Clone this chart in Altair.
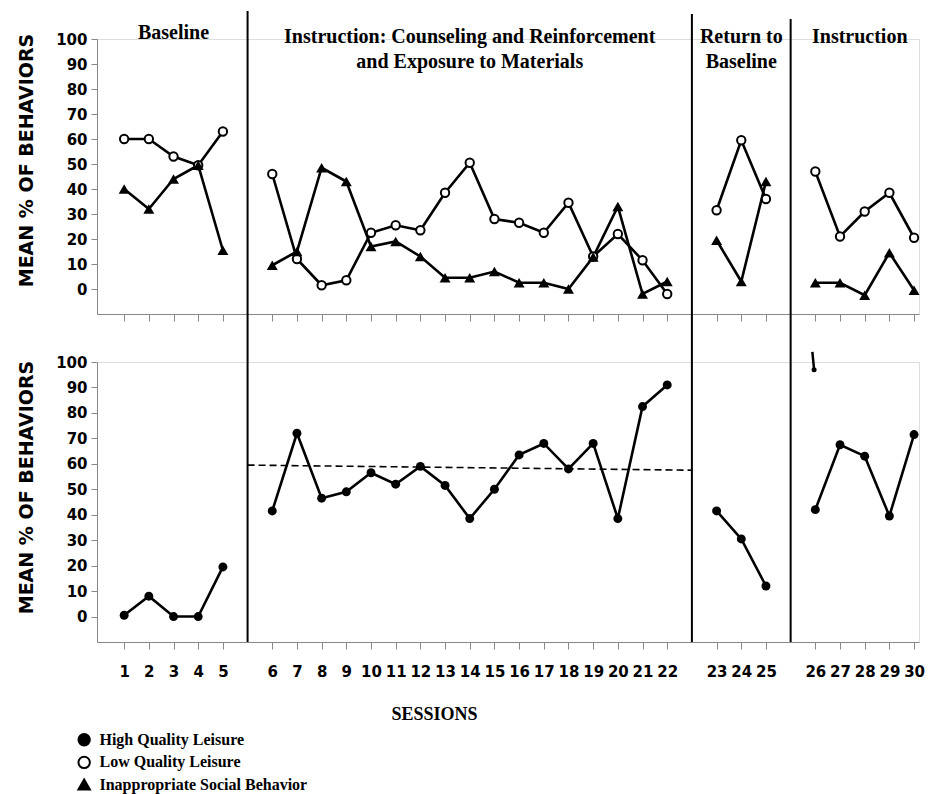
import altair as alt
import pandas as pd

# ---------------- data ----------------
sessions = list(range(1, 31))
phase_of_session = [0] * 5 + [1] * 17 + [2] * 3 + [3] * 5

low_quality = [60, 60, 53, 49.5, 63,
               46, 12, 1.5, 3.5, 22.5, 25.5, 23.5, 38.5, 50.5, 28, 26.5, 22.5, 34.5, 13, 22, 11.5, -2,
               31.5, 59.5, 36,
               47, 21, 31, 38.5, 20.5]
inappropriate = [40, 32, 44, 49.5, 15.5,
                 9.5, 15, 48.5, 43, 17, 19, 13, 4.5, 4.5, 7, 2.5, 2.5, 0, 12.8, 33, -2, 3,
                 19.5, 3, 43,
                 2.5, 2.5, -2.5, 14.5, -0.5]
high_quality = [0.5, 8, 0, 0, 19.5,
                41.5, 72, 46.5, 49, 56.5, 52, 59, 51.5, 38.5, 50, 63.5, 68, 58, 68, 38.5, 82.5, 91,
                41.5, 30.5, 12,
                42, 67.5, 63, 39.5, 71.5]

phase_names = [["Baseline"],
               ["Instruction: Counseling and Reinforcement", "and Exposure to Materials"],
               ["Return to", "Baseline"],
               ["Instruction"]]
trend_values = [59.5, 57.5]           # dashed line in the first instruction phase
stray_mark = [97, 104]                # small stray stroke at session 26 (lower panel)
legend_labels = ["High Quality Leisure", "Low Quality Leisure", "Inappropriate Social Behavior"]

# ---------------- layout helpers ----------------
# each phase change leaves an empty slot on the session axis
pos = [s + p for s, p in zip(sessions, phase_of_session)]
phase_lines = [6, 24, 28]
tick_positions = pos

df = pd.DataFrame({"session": sessions, "pos": pos, "phase": phase_of_session,
                   "low": low_quality, "inap": inappropriate, "high": high_quality})

x_scale = alt.Scale(domain=[-0.1, 33.2], nice=False, zero=False)
y_scale = alt.Scale(domain=[-10, 100], nice=False, zero=False)

label_expr = ("datum.value <= 5 ? datum.value : datum.value <= 23 ? datum.value - 1 : "
              "datum.value <= 27 ? datum.value - 2 : datum.value - 3")

W = 822
H_TOP = 275
H_BOT = 280

Y_TITLE = "MEAN % OF BEHAVIORS"


def y_axis(title_y):
    return alt.Axis(values=list(range(0, 101, 10)), title=Y_TITLE, titleX=-71, titleY=title_y,
                    titleAngle=-90, titleFont="DejaVu Sans", titleFontSize=19, titleFontWeight="bold",
                    titleAlign="center", titleBaseline="middle",
                    labelFont="DejaVu Sans", labelFontSize=15, labelFontWeight="bold",
                    labelPadding=4, tickSize=6, grid=False, labelOverlap=False,
                    labelBound=False)


x_axis_top = alt.Axis(values=tick_positions, labels=False, title=None, tickSize=7, grid=False)
x_axis_bot = alt.Axis(values=tick_positions, labelExpr=label_expr, title="SESSIONS",
                      labelFont="DejaVu Sans", labelFontSize=15, labelFontWeight="bold",
                      labelPadding=15, tickSize=7, grid=False, labelOverlap=False,
                      labelBound=False, labelFlush=False,
                      titleX=337, titleY=77, titleAnchor="start", titleAlign="center",
                      titleBaseline="alphabetic",
                      titleFont="Liberation Serif", titleFontSize=18, titleFontWeight="bold")

BLACK = "black"


def enc_top(yfield):
    return dict(x=alt.X("pos:Q", scale=x_scale, axis=x_axis_top),
                y=alt.Y(yfield, scale=y_scale, axis=y_axis(121)))


def enc_bot(yfield):
    return dict(x=alt.X("pos:Q", scale=x_scale, axis=x_axis_bot),
                y=alt.Y(yfield, scale=y_scale, axis=y_axis(125)))


# ---------------- top panel ----------------
base_top = alt.Chart(df)

low_line = base_top.mark_line(color=BLACK, strokeWidth=2.6).encode(
    **enc_top("low:Q"), detail="phase:N")
inap_line = base_top.mark_line(color=BLACK, strokeWidth=2.6).encode(
    **enc_top("inap:Q"), detail="phase:N")
low_pts = base_top.mark_point(shape="circle", filled=True, fill="white", stroke=BLACK,
                              strokeWidth=2, size=70, opacity=1).encode(**enc_top("low:Q"))
inap_pts = base_top.mark_point(shape="triangle-up", filled=True, color=BLACK, size=120,
                               opacity=1).encode(**enc_top("inap:Q"))

rules_top = alt.Chart(pd.DataFrame({"pos": phase_lines, "top": [111.2, 110, 108],
                                    "bot": [-10, -10, -10]})).mark_rule(
    color=BLACK, strokeWidth=2).encode(**enc_top("top:Q"), y2="bot:Q")

lab_rows = []
centers = [3, 15, 26, 30.8]
for c, lines in zip(centers, phase_names):
    for i, t in enumerate(lines):
        lab_rows.append({"pos": c, "y": (102.6 if len(lines) == 1 and c == 3 else 101.0) - 10 * i,
                         "text": t})
phase_labels = alt.Chart(pd.DataFrame(lab_rows)).mark_text(
    font="Liberation Serif", fontSize=20, fontWeight="bold", color=BLACK,
    align="center", baseline="middle").encode(**enc_top("y:Q"), text="text:N")

top = alt.layer(rules_top, inap_line, low_line, low_pts, inap_pts, phase_labels).properties(
    width=W, height=H_TOP)

# ---------------- bottom panel ----------------
base_bot = alt.Chart(df)
high_line = base_bot.mark_line(color=BLACK, strokeWidth=2.6).encode(
    **enc_bot("high:Q"), detail="phase:N")
high_pts = base_bot.mark_point(shape="circle", filled=True, color=BLACK, size=80,
                               opacity=1).encode(**enc_bot("high:Q"))

trend = alt.Chart(pd.DataFrame({"pos": [phase_lines[0], phase_lines[1]],
                                "v": trend_values})).mark_line(
    color=BLACK, strokeWidth=1.6, strokeDash=[7, 4]).encode(**enc_bot("v:Q"))

rules_bot = alt.Chart(pd.DataFrame({"pos": phase_lines, "top": [119, 119, 119],
                                    "bot": [-10, -10, -10]})).mark_rule(
    color=BLACK, strokeWidth=2).encode(**enc_bot("top:Q"), y2="bot:Q")

stray = alt.Chart(pd.DataFrame({"pos": [29 - 0.05, 29 - 0.12], "v": stray_mark})).mark_line(
    color=BLACK, strokeWidth=2.5).encode(**enc_bot("v:Q"))
stray_dot = alt.Chart(pd.DataFrame({"pos": [29 - 0.05], "v": [stray_mark[0]]})).mark_point(
    shape="circle", filled=True, color=BLACK, size=25, opacity=1).encode(**enc_bot("v:Q"))

leg_df = pd.DataFrame({"label": legend_labels,
                       "shape": ["circle", "circle", "triangle-up"],
                       "fill": ["black", "white", "black"],
                       "pos": [-0.62] * 3, "tx": [0.0] * 3,
                       "y": [-48.4, -57.3, -66.0]})
leg_sym = alt.Chart(leg_df).mark_point(stroke=BLACK, strokeWidth=2, filled=True, opacity=1,
                                       size=130).encode(
    **enc_bot("y:Q"),
    shape=alt.Shape("shape:N", scale=None),
    fill=alt.Fill("fill:N", scale=None))
leg_txt = alt.Chart(leg_df).mark_text(font="Liberation Serif", fontSize=16, fontWeight="bold",
                                      color=BLACK, align="left", baseline="middle").encode(
    x=alt.X("tx:Q", scale=x_scale, axis=x_axis_bot),
    y=alt.Y("y:Q", scale=y_scale, axis=y_axis(125)), text="label:N")

bottom = alt.layer(rules_bot, trend, high_line, high_pts, stray, stray_dot,
                   leg_sym, leg_txt).properties(width=W, height=H_BOT)

chart = alt.vconcat(top, bottom, spacing=48, bounds="flush").properties(
    padding={"left": 8, "top": 1, "right": 2, "bottom": 3}
).configure_view(stroke=None).configure_axis(
    domainColor=BLACK, domainWidth=2.5, tickColor=BLACK, tickWidth=2,
    labelColor=BLACK, titleColor=BLACK, labelOverlap=False
).configure(background="white")

chart.save("out.html", embed_options={"renderer": "svg", "actions": False})
